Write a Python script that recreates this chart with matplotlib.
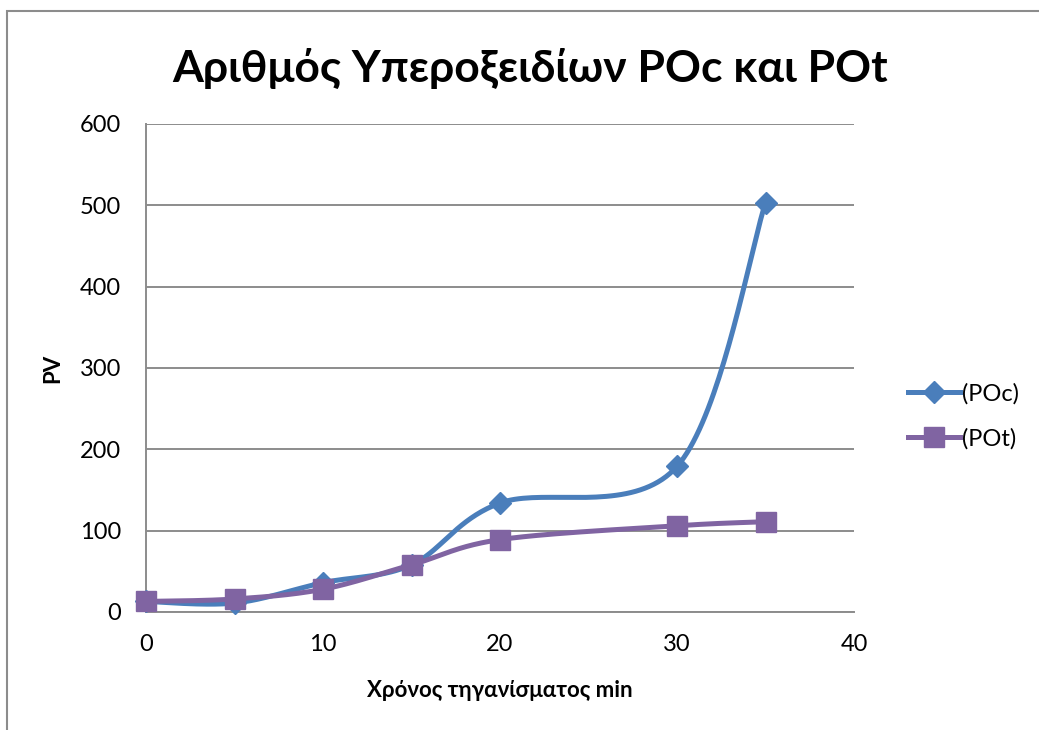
import numpy as np
import matplotlib
matplotlib.use("Agg")
import matplotlib.pyplot as plt
from matplotlib.lines import Line2D
from matplotlib.patches import Rectangle

plt.rcParams['font.family'] = ['Lato', 'Open Sans', 'DejaVu Sans']

x_time = [0, 5, 10, 15, 20, 30, 35]
poc = [13, 11, 36, 58, 134, 179, 503]
pot = [13, 16, 28, 58, 89, 106, 111]
series_names = ['(POc)', '(POt)']
title = 'Αριθμός Υπεροξειδίων POc και POt'
xlabel = 'Χρόνος τηγανίσματος min'
ylabel = 'PV'
xticks = [0, 10, 20, 30, 40]
yticks = [0, 100, 200, 300, 400, 500, 600]

BLUE = '#4A7EBB'
PURPLE = '#8064A2'
GRID = '#8C8C8C'


def smooth(xs, ys, n=40):
    xs = np.asarray(xs, float); ys = np.asarray(ys, float)
    px = np.concatenate([[xs[0]], xs, [xs[-1]]])
    py = np.concatenate([[ys[0]], ys, [ys[-1]]])
    ox, oy = [], []
    t = np.linspace(0, 1, n)
    for i in range(1, len(px) - 2):
        p0 = np.array([px[i], py[i]]); p3 = np.array([px[i + 1], py[i + 1]])
        c1 = p0 + (np.array([px[i + 1], py[i + 1]]) - np.array([px[i - 1], py[i - 1]])) / 6
        c2 = p3 - (np.array([px[i + 2], py[i + 2]]) - np.array([px[i], py[i]])) / 6
        b = ((1 - t) ** 3)[:, None] * p0 + (3 * (1 - t) ** 2 * t)[:, None] * c1 \
            + (3 * (1 - t) * t ** 2)[:, None] * c2 + (t ** 3)[:, None] * p3
        ox.extend(b[:, 0]); oy.extend(b[:, 1])
    return ox, oy


fig = plt.figure(figsize=(10.39, 7.3), dpi=100)
fig.patches.append(Rectangle((7 / 1039, -0.1), 1.2, 1 - 11 / 730 + 0.1, transform=fig.transFigure,
                             fill=False, edgecolor='#8C8C8C', linewidth=1.5))
ax = fig.add_axes([146 / 1039, 1 - 612 / 730, (854 - 146) / 1039, (612 - 124) / 730])

ax.set_xlim(0, 40)
ax.set_ylim(0, 600)
ax.set_xticks(xticks)
ax.set_yticks(yticks)
ax.tick_params(length=0, labelsize=17, pad=18)
ax.tick_params(axis='x', pad=16)
ax.yaxis.grid(True, color=GRID, linewidth=1.4)
ax.set_axisbelow(True)
for s in ['top', 'right']:
    ax.spines[s].set_visible(False)
for s in ['left', 'bottom']:
    ax.spines[s].set_color(GRID)
    ax.spines[s].set_linewidth(1.4)

LW = 3.6
sx, sy = smooth(x_time, poc)
ax.plot(sx, sy, color=BLUE, lw=LW, solid_capstyle='round', zorder=3)
ax.plot(x_time, poc, ls='none', marker='D', ms=11, color=BLUE, zorder=4, clip_on=False)
sx, sy = smooth(x_time, pot)
ax.plot(sx, sy, color=PURPLE, lw=LW, solid_capstyle='round', zorder=5)
ax.plot(x_time, pot, ls='none', marker='s', ms=14, color=PURPLE, zorder=6, clip_on=False)

ax.set_xlabel(xlabel, fontsize=16, fontweight='bold', labelpad=18)
ax.set_ylabel(ylabel, fontsize=16, fontweight='bold', labelpad=12)

fig.text(530 / 1039, 1 - 68 / 730, title, ha='center', va='center', fontsize=32, fontweight='bold')

handles = [Line2D([], [], color=BLUE, lw=LW, marker='D', ms=11),
           Line2D([], [], color=PURPLE, lw=LW, marker='s', ms=14)]
fig.legend(handles, series_names, loc='center left', bbox_to_anchor=(908 / 1039, 1 - 416 / 730),
           frameon=False, fontsize=17, handlelength=2.2, handletextpad=0.1, labelspacing=1.0,
           borderaxespad=0, borderpad=0)

fig.savefig('out.png', dpi=100, facecolor='white')
